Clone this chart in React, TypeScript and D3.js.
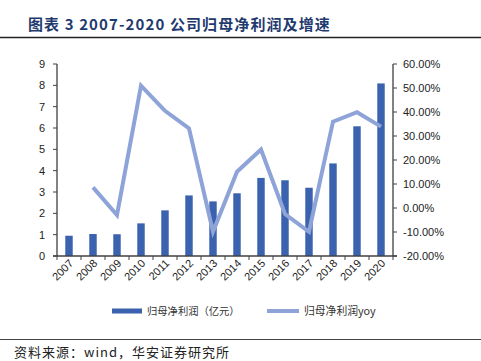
import React from "react";
import * as d3 from "d3";

const years = ["2007","2008","2009","2010","2011","2012","2013","2014","2015","2016","2017","2018","2019","2020"];
const profit = [0.95,1.03,1.02,1.53,2.14,2.84,2.56,2.94,3.66,3.55,3.2,4.34,6.08,8.09];
const yoyYears = ["2008","2009","2010","2011","2012","2013","2014","2015","2016","2017","2018","2019","2020"];
const yoy = [8.6,-2.9,51,40.5,33.2,-9.9,15.1,24.4,-2.5,-9.9,36,39.9,33.9];
const leftTicks = [0,1,2,3,4,5,6,7,8,9];
const rightTicks = [-20,-10,0,10,20,30,40,50,60];

export default function App() {
  const W = 481, H = 361;
  const x0 = 57, x1 = 393, yTop = 64, yBot = 256;
  const x = d3.scaleBand().domain(years).range([x0, x1]).paddingInner(0.69).paddingOuter(0.345);
  const yL = d3.scaleLinear().domain([0, 9]).range([yBot, yTop]);
  const yR = d3.scaleLinear().domain([-20, 60]).range([yBot, yTop]);
  const cx = (d: string) => (x(d) as number) + x.bandwidth() / 2;
  const line = d3.line<number>().x((_, i) => cx(yoyYears[i])).y(d => yR(d));
  const step = (x1 - x0) / years.length;
  const font = "'Liberation Sans', Arial, sans-serif";
  const cjk = "'Noto Sans CJK SC', sans-serif";
  const axisColor = "#404040";
  return (
    <svg width={W} height={H} style={{ position: "absolute", left: 0, top: 0, background: "#fff" }}>
      <text x={28} y={30} fontFamily={cjk} fontWeight="bold" fontSize={15} letterSpacing={1.1} fill="#1f3a6e">图表 3 2007-2020 公司归母净利润及增速</text>
      <line x1={0} x2={W} y1={37.5} y2={37.5} stroke="#222" strokeWidth={1.3} />
      {profit.map((v, i) => (
        <rect key={i} x={x(years[i])} y={yL(v)} width={x.bandwidth()} height={yBot - yL(v)} fill="#3a62ae" />
      ))}
      <path d={line(yoy) || ""} fill="none" stroke="#8ea3d8" strokeWidth={4} strokeLinejoin="miter" />
      <line x1={x0} x2={x0} y1={yTop} y2={yBot} stroke={axisColor} strokeWidth={1.3} />
      {leftTicks.map(t => (
        <g key={t}>
          <line x1={x0 - 4} x2={x0} y1={yL(t)} y2={yL(t)} stroke={axisColor} />
          <text x={45} y={yL(t) + 4} textAnchor="end" fontFamily={font} fontSize={11} fill="#222">{t}</text>
        </g>
      ))}
      <line x1={x1} x2={x1} y1={yTop} y2={yBot} stroke={axisColor} strokeWidth={1.3} />
      {rightTicks.map(t => (
        <g key={t}>
          <line x1={x1} x2={x1 + 4} y1={yR(t)} y2={yR(t)} stroke={axisColor} />
          <text x={403} y={yR(t) + 4} fontFamily={font} fontSize={11} fill="#222">{t.toFixed(2)}%</text>
        </g>
      ))}
      <line x1={x0 - 4} x2={x1 + 4} y1={yBot} y2={yBot} stroke={axisColor} strokeWidth={1.3} />
      {d3.range(years.length + 1).map(i => (
        <line key={i} x1={x0 + i * step} x2={x0 + i * step} y1={yBot} y2={yBot + 4} stroke={axisColor} />
      ))}
      {years.map(y => (
        <text key={y} transform={`translate(${cx(y) + 5},${yBot + 8}) rotate(-45)`} textAnchor="end" fontFamily={font} fontSize={11} fill="#222">{y}</text>
      ))}
      <rect x={112} y={308.5} width={30} height={5} fill="#3a62ae" />
      <text x={147} y={315} fontFamily={cjk} fontSize={10.3} fill="#333">归母净利润（亿元）</text>
      <line x1={267} x2={299} y1={311} y2={311} stroke="#8ea3d8" strokeWidth={4} />
      <text x={304} y={315} fontFamily={cjk} fontSize={10.8} fill="#333">归母净利润yoy</text>
      <line x1={0} x2={W} y1={339.5} y2={339.5} stroke="#444" strokeWidth={1} />
      <text x={14} y={357} fontFamily={cjk} fontSize={13} letterSpacing={1} fill="#222">资料来源：wind，华安证券研究所</text>
    </svg>
  );
}
